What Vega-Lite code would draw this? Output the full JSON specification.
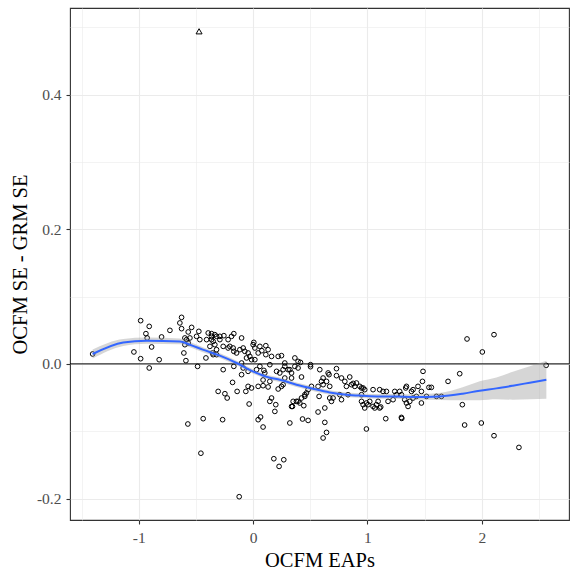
{
  "$schema": "https://vega.github.io/schema/vega-lite/v6.json",
  "autosize": {"type": "none"},
  "padding": {"left": 70, "top": 8, "right": 7, "bottom": 51},
  "width": 499,
  "height": 512,
  "background": "white",
  "config": {
    "view": {"stroke": "#333333", "strokeWidth": 1.1},
    "font": "Liberation Serif"
  },
  "datasets": {
    "pts": [
      {"x":-1.404,"y":0.0147,"s":"a"},{"x":-0.984,"y":0.0642,"s":"a"},{"x":-0.909,"y":0.0557,"s":"a"},{"x":-0.938,"y":0.0449,"s":"a"},{"x":-0.927,"y":0.0385,"s":"a"},{"x":-0.888,"y":0.0251,"s":"a"},{"x":-1.043,"y":0.0177,"s":"a"},{"x":-0.984,"y":0.0077,"s":"a"},{"x":-0.909,"y":-0.0061,"s":"a"},{"x":-0.822,"y":0.0062,"s":"a"},
      {"x":-0.801,"y":0.0400,"s":"a"},{"x":-0.728,"y":0.0498,"s":"a"},{"x":-0.626,"y":0.0691,"s":"a"},{"x":-0.641,"y":0.0608,"s":"a"},{"x":-0.626,"y":0.0523,"s":"a"},{"x":-0.538,"y":0.0542,"s":"a"},{"x":-0.568,"y":0.0474,"s":"a"},{"x":-0.597,"y":0.0385,"s":"a"},{"x":-0.582,"y":0.0360,"s":"a"},{"x":-0.568,"y":0.0311,"s":"a"},
      {"x":-0.553,"y":0.0385,"s":"a"},{"x":-0.606,"y":0.0162,"s":"a"},{"x":-0.597,"y":0.0285,"s":"a"},{"x":-0.588,"y":0.0048,"s":"a"},{"x":-0.486,"y":-0.0037,"s":"a"},{"x":-0.475,"y":0.0483,"s":"a"},{"x":-0.495,"y":0.0409,"s":"a"},{"x":-0.466,"y":0.0360,"s":"a"},{"x":-0.571,"y":-0.0893,"s":"a"},
      {"x":-0.393,"y":0.0459,"s":"a"},{"x":-0.364,"y":0.0409,"s":"a"},{"x":-0.350,"y":0.0334,"s":"a"},{"x":-0.378,"y":0.0260,"s":"a"},{"x":-0.335,"y":0.0285,"s":"a"},{"x":-0.413,"y":0.0088,"s":"a"},{"x":-0.350,"y":0.0137,"s":"a"},{"x":-0.320,"y":0.0409,"s":"a"},{"x":-0.364,"y":0.0449,"s":"a"},{"x":-0.335,"y":0.0434,"s":"a"},
      {"x":-0.364,"y":0.0360,"s":"a"},{"x":-0.320,"y":0.0211,"s":"a"},{"x":-0.355,"y":0.0162,"s":"a"},{"x":-0.291,"y":0.0409,"s":"a"},{"x":-0.256,"y":0.0419,"s":"a"},{"x":-0.219,"y":0.0360,"s":"a"},{"x":-0.189,"y":0.0409,"s":"a"},{"x":-0.169,"y":0.0449,"s":"a"},{"x":-0.101,"y":0.0385,"s":"a"},{"x":-0.204,"y":0.0260,"s":"a"},
      {"x":-0.219,"y":0.0236,"s":"a"},{"x":-0.175,"y":0.0236,"s":"a"},{"x":-0.169,"y":0.0186,"s":"a"},{"x":-0.145,"y":0.0162,"s":"a"},{"x":-0.116,"y":0.0211,"s":"a"},{"x":-0.087,"y":0.0236,"s":"a"},{"x":-0.073,"y":0.0186,"s":"a"},{"x":-0.044,"y":0.0162,"s":"a"},{"x":-0.029,"y":0.0111,"s":"a"},{"x":-0.058,"y":0.0088,"s":"a"},
      {"x":0.000,"y":0.0285,"s":"a"},{"x":0.015,"y":0.0236,"s":"a"},{"x":-0.014,"y":0.0062,"s":"a"},{"x":0.015,"y":0.0062,"s":"a"},{"x":-0.262,"y":0.0260,"s":"a"},{"x":-0.291,"y":0.0360,"s":"a"},{"x":-0.169,"y":-0.0037,"s":"a"},{"x":-0.262,"y":-0.0086,"s":"a"},{"x":-0.101,"y":0.0013,"s":"a"},{"x":-0.087,"y":-0.0061,"s":"a"},
      {"x":-0.044,"y":-0.0111,"s":"a"},{"x":-0.407,"y":0.0360,"s":"a"},{"x":-0.306,"y":-0.0409,"s":"a"},{"x":-0.247,"y":-0.0443,"s":"a"},{"x":-0.227,"y":-0.0507,"s":"a"},{"x":-0.180,"y":-0.0275,"s":"a"},{"x":-0.140,"y":-0.0409,"s":"a"},{"x":-0.101,"y":-0.0160,"s":"a"},{"x":-0.064,"y":-0.0409,"s":"a"},{"x":-0.044,"y":-0.0334,"s":"a"},
      {"x":-0.014,"y":-0.0358,"s":"a"},{"x":-0.035,"y":-0.0596,"s":"a"},{"x":-0.437,"y":-0.0814,"s":"a"},{"x":-0.267,"y":-0.0829,"s":"a"},{"x":-0.457,"y":-0.1327,"s":"a"},{"x":-0.122,"y":-0.1973,"s":"a"},{"x":-0.320,"y":0.0137,"s":"a"},{"x":0.006,"y":0.0319,"s":"a"},
      {"x":0.044,"y":-0.0334,"s":"a"},{"x":0.087,"y":-0.0324,"s":"a"},{"x":0.131,"y":-0.0343,"s":"a"},{"x":0.219,"y":-0.0373,"s":"a"},{"x":0.146,"y":-0.0260,"s":"a"},{"x":0.102,"y":-0.0135,"s":"a"},{"x":0.087,"y":-0.0239,"s":"a"},{"x":0.161,"y":-0.0507,"s":"a"},{"x":0.146,"y":-0.0557,"s":"a"},{"x":0.198,"y":-0.0606,"s":"a"},
      {"x":0.190,"y":-0.0706,"s":"a"},{"x":0.065,"y":-0.0789,"s":"a"},{"x":0.044,"y":-0.0829,"s":"a"},{"x":0.087,"y":-0.0938,"s":"a"},{"x":0.321,"y":-0.0878,"s":"a"},{"x":0.344,"y":-0.0632,"s":"a"},{"x":0.379,"y":-0.0557,"s":"a"},{"x":0.408,"y":-0.0581,"s":"a"},{"x":0.443,"y":-0.0621,"s":"a"},{"x":0.423,"y":-0.0507,"s":"a"},
      {"x":0.452,"y":-0.0458,"s":"a"},{"x":0.481,"y":-0.0383,"s":"a"},{"x":0.432,"y":-0.0819,"s":"a"},{"x":0.481,"y":-0.0840,"s":"a"},{"x":0.568,"y":-0.0715,"s":"a"},{"x":0.181,"y":-0.1409,"s":"a"},{"x":0.268,"y":-0.1424,"s":"a"},{"x":0.227,"y":-0.1523,"s":"a"},{"x":0.059,"y":0.0260,"s":"a"},{"x":0.111,"y":0.0270,"s":"a"},
      {"x":0.131,"y":0.0211,"s":"a"},{"x":0.111,"y":0.0137,"s":"a"},{"x":0.161,"y":0.0111,"s":"a"},{"x":0.219,"y":0.0111,"s":"a"},{"x":0.146,"y":-0.0012,"s":"a"},{"x":0.059,"y":-0.0037,"s":"a"},{"x":0.030,"y":-0.0086,"s":"a"},{"x":0.094,"y":-0.0097,"s":"a"},{"x":0.248,"y":-0.0334,"s":"a"},{"x":0.233,"y":-0.0135,"s":"a"},
      {"x":0.277,"y":-0.0037,"s":"a"},{"x":0.306,"y":-0.0086,"s":"a"},{"x":0.205,"y":-0.0111,"s":"a"},{"x":0.044,"y":0.0162,"s":"a"},{"x":0.076,"y":0.0196,"s":"a"},{"x":0.248,"y":0.0122,"s":"a"},{"x":0.277,"y":0.0013,"s":"a"},{"x":0.262,"y":-0.0086,"s":"a"},{"x":0.321,"y":-0.0086,"s":"a"},{"x":0.336,"y":-0.0135,"s":"a"},
      {"x":0.365,"y":0.0088,"s":"a"},{"x":0.393,"y":0.0037,"s":"a"},{"x":0.414,"y":0.0022,"s":"a"},{"x":0.365,"y":-0.0037,"s":"a"},{"x":0.393,"y":-0.0061,"s":"a"},{"x":0.277,"y":-0.0210,"s":"a"},{"x":0.262,"y":-0.0309,"s":"a"},{"x":0.336,"y":-0.0210,"s":"a"},{"x":0.423,"y":-0.0195,"s":"a"},{"x":0.350,"y":-0.0557,"s":"a"},
      {"x":0.336,"y":-0.0632,"s":"a"},{"x":0.502,"y":-0.0012,"s":"a"},{"x":0.502,"y":-0.0042,"s":"a"},{"x":0.583,"y":-0.0086,"s":"a"},{"x":0.656,"y":-0.0135,"s":"a"},{"x":0.664,"y":-0.0160,"s":"a"},{"x":0.729,"y":-0.0175,"s":"a"},{"x":0.773,"y":-0.0210,"s":"a"},{"x":0.802,"y":-0.0260,"s":"a"},{"x":0.845,"y":-0.0195,"s":"a"},
      {"x":0.612,"y":-0.0210,"s":"a"},{"x":0.598,"y":-0.0260,"s":"a"},{"x":0.642,"y":-0.0260,"s":"a"},{"x":0.612,"y":-0.0309,"s":"a"},{"x":0.568,"y":-0.0334,"s":"a"},{"x":0.670,"y":-0.0334,"s":"a"},{"x":0.510,"y":-0.0334,"s":"a"},{"x":0.467,"y":-0.0432,"s":"a"},{"x":0.452,"y":-0.0483,"s":"a"},{"x":0.393,"y":-0.0557,"s":"a"},
      {"x":0.577,"y":-0.0483,"s":"a"},{"x":0.670,"y":-0.0507,"s":"a"},{"x":0.685,"y":-0.0557,"s":"a"},{"x":0.699,"y":-0.0507,"s":"a"},{"x":0.773,"y":-0.0532,"s":"a"},{"x":0.758,"y":-0.0458,"s":"a"},{"x":0.816,"y":-0.0334,"s":"a"},{"x":0.860,"y":-0.0309,"s":"a"},{"x":0.889,"y":-0.0334,"s":"a"},{"x":0.904,"y":-0.0284,"s":"a"},
      {"x":0.933,"y":-0.0334,"s":"a"},{"x":0.830,"y":-0.0458,"s":"a"},{"x":0.627,"y":-0.0655,"s":"a"},{"x":0.612,"y":-0.1101,"s":"a"},{"x":0.642,"y":-0.1018,"s":"a"},{"x":0.627,"y":-0.0869,"s":"a"},{"x":0.729,"y":-0.0071,"s":"a"},{"x":0.875,"y":-0.0290,"s":"a"},
      {"x":0.948,"y":-0.0358,"s":"a"},{"x":0.976,"y":-0.0383,"s":"a"},{"x":0.948,"y":-0.0458,"s":"a"},{"x":0.962,"y":-0.0606,"s":"a"},{"x":0.976,"y":-0.0655,"s":"a"},{"x":0.991,"y":-0.0581,"s":"a"},{"x":1.020,"y":-0.0557,"s":"a"},{"x":1.049,"y":-0.0632,"s":"a"},{"x":1.079,"y":-0.0606,"s":"a"},{"x":1.064,"y":-0.0655,"s":"a"},
      {"x":1.107,"y":-0.0655,"s":"a"},{"x":1.093,"y":-0.0557,"s":"a"},{"x":1.049,"y":-0.0383,"s":"a"},{"x":1.107,"y":-0.0383,"s":"a"},{"x":1.136,"y":-0.0409,"s":"a"},{"x":1.166,"y":-0.0409,"s":"a"},{"x":1.180,"y":-0.0557,"s":"a"},{"x":1.224,"y":-0.0532,"s":"a"},{"x":1.239,"y":-0.0409,"s":"a"},{"x":1.253,"y":-0.0458,"s":"a"},
      {"x":1.282,"y":-0.0409,"s":"a"},{"x":1.297,"y":-0.0458,"s":"a"},{"x":1.335,"y":-0.0358,"s":"a"},{"x":1.341,"y":-0.0334,"s":"a"},{"x":1.326,"y":-0.0532,"s":"a"},{"x":1.341,"y":-0.0581,"s":"a"},{"x":1.355,"y":-0.0632,"s":"a"},{"x":1.370,"y":-0.0557,"s":"a"},{"x":1.385,"y":-0.0409,"s":"a"},{"x":1.399,"y":-0.0383,"s":"a"},
      {"x":1.399,"y":-0.0507,"s":"a"},{"x":1.428,"y":-0.0483,"s":"a"},{"x":1.442,"y":-0.0334,"s":"a"},{"x":1.472,"y":-0.0409,"s":"a"},{"x":1.472,"y":-0.0581,"s":"a"},{"x":1.516,"y":-0.0483,"s":"a"},{"x":1.538,"y":-0.0349,"s":"a"},{"x":1.559,"y":-0.0349,"s":"a"},{"x":1.603,"y":-0.0483,"s":"a"},{"x":1.647,"y":-0.0483,"s":"a"},
      {"x":1.486,"y":-0.0111,"s":"a"},{"x":1.705,"y":-0.0260,"s":"a"},{"x":1.160,"y":-0.0814,"s":"a"},{"x":1.297,"y":-0.0795,"s":"a"},{"x":1.300,"y":-0.0810,"s":"a"},{"x":1.481,"y":-0.0260,"s":"a"},{"x":1.116,"y":-0.0640,"s":"a"},{"x":0.991,"y":-0.0967,"s":"a"},{"x":1.005,"y":-0.0606,"s":"a"},{"x":0.962,"y":-0.0358,"s":"a"},
      {"x":0.948,"y":-0.0557,"s":"a"},{"x":1.807,"y":-0.0146,"s":"a"},{"x":1.830,"y":-0.0606,"s":"a"},{"x":1.850,"y":-0.0908,"s":"a"},{"x":1.996,"y":-0.0878,"s":"a"},{"x":2.107,"y":-0.1067,"s":"a"},{"x":2.325,"y":-0.1241,"s":"a"},{"x":1.871,"y":0.0370,"s":"a"},{"x":2.107,"y":0.0434,"s":"a"},{"x":2.005,"y":0.0177,"s":"a"},
      {"x":2.563,"y":-0.0022,"s":"a"},
      {"x":-0.473,"y":0.494,"s":"b"}
    ],
    "smooth": [
      {"x":-1.404,"fit":0.0147,"lo":0.0080,"hi":0.0214},
      {"x":-1.136,"fit":0.0319,"lo":0.0267,"hi":0.0371},
      {"x":-0.932,"fit":0.0345,"lo":0.0300,"hi":0.0390},
      {"x":-0.641,"fit":0.0334,"lo":0.0292,"hi":0.0376},
      {"x":-0.553,"fit":0.0285,"lo":0.0246,"hi":0.0324},
      {"x":-0.440,"fit":0.0211,"lo":0.0174,"hi":0.0248},
      {"x":-0.291,"fit":0.0122,"lo":0.0088,"hi":0.0156},
      {"x":-0.145,"fit":0.0013,"lo":-0.0020,"hi":0.0046},
      {"x":-0.003,"fit":-0.0111,"lo":-0.0144,"hi":-0.0078},
      {"x":0.146,"fit":-0.0205,"lo":-0.0238,"hi":-0.0172},
      {"x":0.233,"fit":-0.0235,"lo":-0.0268,"hi":-0.0202},
      {"x":0.379,"fit":-0.0309,"lo":-0.0342,"hi":-0.0276},
      {"x":0.522,"fit":-0.0369,"lo":-0.0402,"hi":-0.0336},
      {"x":0.670,"fit":-0.0424,"lo":-0.0457,"hi":-0.0391},
      {"x":0.816,"fit":-0.0458,"lo":-0.0491,"hi":-0.0425},
      {"x":0.959,"fit":-0.0473,"lo":-0.0506,"hi":-0.0440},
      {"x":1.108,"fit":-0.0483,"lo":-0.0517,"hi":-0.0449},
      {"x":1.254,"fit":-0.0483,"lo":-0.0519,"hi":-0.0447},
      {"x":1.396,"fit":-0.0492,"lo":-0.0532,"hi":-0.0452},
      {"x":1.632,"fit":-0.0483,"lo":-0.0535,"hi":-0.0431},
      {"x":1.833,"fit":-0.0443,"lo":-0.0540,"hi":-0.0346},
      {"x":1.982,"fit":-0.0398,"lo":-0.0539,"hi":-0.0257},
      {"x":2.128,"fit":-0.0364,"lo":-0.0527,"hi":-0.0201},
      {"x":2.271,"fit":-0.0324,"lo":-0.0532,"hi":-0.0116},
      {"x":2.420,"fit":-0.0279,"lo":-0.0524,"hi":-0.0034},
      {"x":2.565,"fit":-0.0235,"lo":-0.0517,"hi":0.0047}
    ]
  },
  "layer": [
    {
      "data": {"name": "pts"},
      "mark": {"type": "point", "filled": false, "color": "black", "strokeWidth": 1, "opacity": 1},
      "encoding": {
        "x": {
          "field": "x", "type": "quantitative",
          "scale": {"domain": [-1.602, 2.763], "nice": false, "zero": false},
          "axis": {
            "title": "OCFM EAPs",
            "values": [-1.5, -1, -0.5, 0, 0.5, 1, 1.5, 2, 2.5],
            "labelExpr": "datum.value % 1 == 0 ? toString(datum.value) : ''",
            "domain": false,
            "grid": true,
            "gridColor": "#EBEBEB",
            "gridWidth": {"condition": {"test": "datum.value % 1 == 0", "value": 1.1}, "value": 0.6},
            "tickColor": "#333333",
            "tickWidth": 1.1,
            "tickSize": 4,
            "tickOpacity": {"condition": {"test": "datum.value % 1 == 0", "value": 1}, "value": 0},
            "labelFont": "Liberation Serif",
            "labelFontSize": 15.5,
            "labelColor": "#4D4D4D",
            "labelPadding": 6,
            "labelFlush": false,
            "labelOverlap": false,
            "titleFont": "Liberation Serif",
            "titleFontSize": 20.5,
            "titleFontWeight": "normal",
            "titleColor": "black",
            "titleBaseline": "alphabetic",
            "titleY": 46
          }
        },
        "y": {
          "field": "y", "type": "quantitative",
          "scale": {"domain": [-0.2319, 0.5286], "nice": false, "zero": false},
          "axis": {
            "title": "OCFM SE - GRM SE",
            "values": [-0.2, -0.1, 0, 0.1, 0.2, 0.3, 0.4, 0.5],
            "labelExpr": "round(datum.value*10) % 2 == 0 ? (datum.value < -0.001 ? '-' : '') + format(abs(datum.value), '.1f') : ''",
            "domain": false,
            "grid": true,
            "gridColor": "#EBEBEB",
            "gridWidth": {"condition": {"test": "round(datum.value*10) % 2 == 0", "value": 1.1}, "value": 0.6},
            "tickColor": "#333333",
            "tickWidth": 1.1,
            "tickSize": 4,
            "tickOpacity": {"condition": {"test": "round(datum.value*10) % 2 == 0", "value": 1}, "value": 0},
            "labelFont": "Liberation Serif",
            "labelFontSize": 15.5,
            "labelColor": "#4D4D4D",
            "labelPadding": 5,
            "labelFlush": false,
            "labelOverlap": false,
            "titleFont": "Liberation Serif",
            "titleFontSize": 20.5,
            "titleFontWeight": "normal",
            "titleColor": "black",
            "titleAngle": -90,
            "titleAlign": "center",
            "titleBaseline": "middle",
            "titleX": -50,
            "titleY": 256
          }
        },
        "shape": {
          "field": "s", "type": "nominal",
          "scale": {"domain": ["a", "b"], "range": ["circle", "triangle-up"]},
          "legend": null
        },
        "size": {
          "field": "s", "type": "nominal",
          "scale": {"domain": ["a", "b"], "range": [22, 36]},
          "legend": null
        }
      }
    },
    {
      "data": {"values": [{"y0": 0}]},
      "mark": {"type": "rule", "color": "black", "strokeWidth": 1},
      "encoding": {"y": {"field": "y0", "type": "quantitative"}}
    },
    {
      "data": {"name": "smooth"},
      "mark": {"type": "area", "color": "#999999", "opacity": 0.4, "interpolate": "monotone"},
      "encoding": {
        "x": {"field": "x", "type": "quantitative"},
        "y": {"field": "lo", "type": "quantitative"},
        "y2": {"field": "hi"}
      }
    },
    {
      "data": {"name": "smooth"},
      "mark": {"type": "line", "color": "#3366FF", "strokeWidth": 2, "interpolate": "monotone"},
      "encoding": {
        "x": {"field": "x", "type": "quantitative"},
        "y": {"field": "fit", "type": "quantitative"}
      }
    }
  ]
}
